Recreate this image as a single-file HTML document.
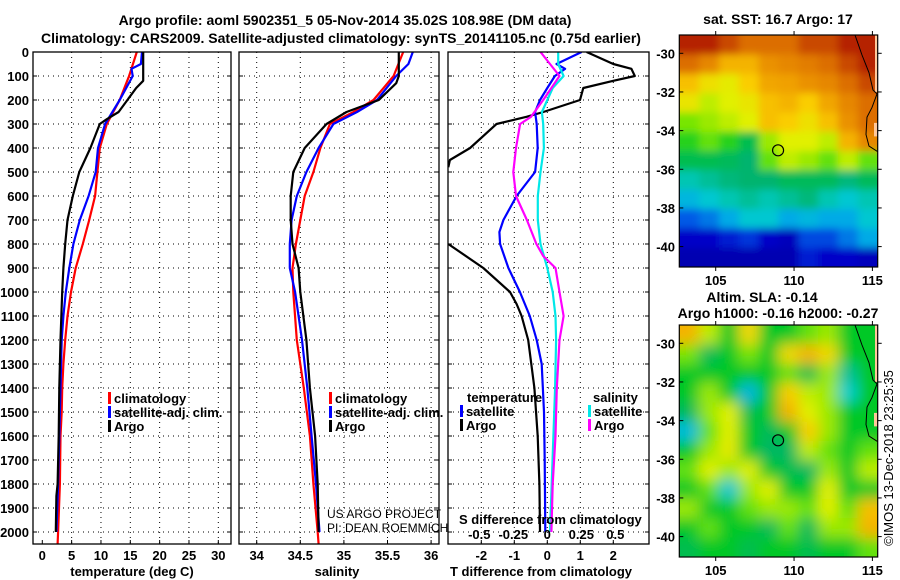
<!DOCTYPE html>
<html><head><meta charset="utf-8"><style>
html,body{margin:0;padding:0;background:#fff}
svg{display:block}
text{font-family:"Liberation Sans",sans-serif;font-weight:bold;fill:#000}
.t{font-size:13px}
.ti{font-size:14px}
.thin{font-weight:normal;font-size:12px}
</style></head><body>
<svg id="fig" width="900" height="580" viewBox="0 0 900 580" xmlns="http://www.w3.org/2000/svg">
<text class="ti" x="345" y="25" text-anchor="middle">Argo profile: aoml 5902351_5 05-Nov-2014 35.02S 108.98E (DM data)</text>
<text class="ti" x="341" y="43" text-anchor="middle">Climatology: CARS2009. Satellite-adjusted climatology: synTS_20141105.nc (0.75d earlier)</text>
<g id="p1"></g>
<g id="p2"></g>
<g id="p3"></g>
<g id="m1"></g>
<g id="m2"></g>
<text class="ti" x="778" y="24" text-anchor="middle">sat. SST: 16.7 Argo: 17</text>
<text class="ti" x="762" y="302" text-anchor="middle">Altim. SLA: -0.14</text>
<text class="ti" x="778" y="318" text-anchor="middle">Argo h1000: -0.16 h2000: -0.27</text>
<text x="0" y="0" style="font-weight:normal;font-size:13px" transform="translate(893,458) rotate(-90)" text-anchor="middle">©IMOS 13-Dec-2018 23:25:35</text>
</svg>
<script>
// ---- temperature profiles ----
const tClimDepth=[0,100,200,300,400,500,600,700,800,900,1000,1100,1200,1300,1400,1500,1600,1800,2000,2050];
const tClim=[16.1,14.8,13.2,11.0,9.8,9.4,9.0,8.0,6.9,5.7,4.9,4.3,3.9,3.6,3.4,3.3,3.1,3.0,2.7,2.6];
const tSatDepth=[0,50,70,100,200,300,400,500,600,700,800,900,1000,1100,1200,1400,1600,1800,2000];
const tSat=[17.0,16.8,15.2,15.4,13.2,10.7,9.5,9.1,7.9,6.4,5.3,4.6,4.0,3.6,3.3,3.1,2.9,2.7,2.4];
const tArgoDepth=[0,120,150,200,250,280,300,350,400,500,600,700,800,900,1000,1200,1400,1600,1800,1850,2000];
const tArgo=[17.2,17.2,16.0,14.5,13.0,11.0,9.8,9.0,8.2,6.3,5.2,4.3,3.9,3.6,3.4,3.1,2.9,2.8,2.6,2.4,2.3];
// ---- salinity profiles ----
const sClimDepth=[0,100,200,250,300,400,500,600,700,800,900,1000,1200,1400,1600,1800,2000,2050];
const sClim=[35.68,35.57,35.34,35.11,34.84,34.73,34.65,34.55,34.50,34.45,34.41,34.42,34.46,34.54,34.61,34.65,34.70,34.71];
const sSatDepth=[0,50,100,200,250,300,400,500,600,700,800,900,1000,1200,1400,1600,1800,2000];
const sSat=[35.79,35.74,35.60,35.38,35.15,34.88,34.71,34.57,34.46,34.40,34.38,34.38,34.44,34.52,34.58,34.63,34.68,34.72];
const sArgoDepth=[0,100,130,200,250,300,400,500,600,700,800,900,1000,1200,1400,1600,1800,2000];
const sArgo=[35.63,35.63,35.60,35.40,35.03,34.80,34.55,34.42,34.39,34.39,34.41,34.48,34.50,34.57,34.61,34.67,34.70,34.71];
// ---- differences ----
const dTArgoDepth=[0,50,70,100,120,150,200,250,270,300,400,450,480];
const dTArgo=[1.19,2.0,2.55,2.65,2.0,1.09,0.99,-0.12,-0.63,-1.54,-2.34,-2.95,-3.0];
const dTArgoDeepDepth=[800,900,1000,1050,1100,1200,1400,1600,1800,2000];
const dTArgoDeep=[-3.0,-1.94,-1.13,-0.93,-0.78,-0.58,-0.39,-0.29,-0.24,-0.22];
const dTSatDepth=[0,50,70,100,150,200,250,300,400,500,600,700,750,800,900,1000,1100,1200,1300,1500,1700,2000];
const dTSat=[1.04,0.28,0.54,0.23,0.0,-0.22,-0.37,-0.32,-0.29,-0.37,-0.93,-1.33,-1.45,-1.43,-1.18,-0.83,-0.53,-0.32,-0.17,-0.10,-0.08,-0.06];
const dSSatDepth=[0,50,100,150,200,250,300,400,500,600,700,800,900,1000,1100,1200,1400,1600,1800,2000];
const dSSat=[0.08,0.08,0.12,0.04,0.0,-0.04,-0.03,-0.025,-0.05,-0.07,-0.07,-0.05,0.0,0.04,0.06,0.065,0.057,0.045,0.032,0.02];
const dSArgoDepth=[0,50,100,150,200,270,300,400,500,600,700,800,850,900,1000,1100,1200,1400,1600,1800,2000];
const dSArgo=[-0.05,0.02,0.09,0.03,-0.03,-0.12,-0.20,-0.23,-0.25,-0.23,-0.15,-0.08,-0.03,0.06,0.09,0.12,0.09,0.07,0.06,0.04,0.03];
// ---- tick labels ----
const depthTicks=[0,100,200,300,400,500,600,700,800,900,1000,1100,1200,1300,1400,1500,1600,1700,1800,1900,2000];
const tempTicks=[0,5,10,15,20,25,30];
const salTicks=[34,34.5,35,35.5,36];
const salTickLabels=["34","34.5","35","35.5","36"];
const dTTicks=[-2,-1,0,1,2];
const dSTicks=[-0.5,-0.25,0,0.25,0.5];
const dSTickLabels=["-0.5","-0.25","0","0.25","0.5"];
const latTicks=[-30,-32,-34,-36,-38,-40];
const lonTicks=[105,110,115];
// ---- map grids (colour index 0..1), rows north->south, lat -29.05..-41.05, lon 102.7..115.3 ----
const sstGrid=[
[0.95,0.95,0.9,0.85,0.85,0.85,0.9,0.9,0.95,0.95],
[0.85,0.8,0.72,0.72,0.78,0.8,0.82,0.85,0.9,0.95],
[0.7,0.65,0.63,0.68,0.74,0.75,0.78,0.8,0.85,0.9],
[0.64,0.6,0.62,0.64,0.7,0.72,0.68,0.74,0.8,0.85],
[0.56,0.58,0.6,0.62,0.7,0.68,0.65,0.7,0.78,0.85],
[0.52,0.55,0.52,0.46,0.58,0.62,0.62,0.6,0.72,0.8],
[0.46,0.46,0.45,0.43,0.55,0.6,0.58,0.55,0.6,0.55],
[0.38,0.4,0.42,0.43,0.43,0.45,0.45,0.45,0.42,0.45],
[0.32,0.35,0.38,0.4,0.38,0.4,0.42,0.38,0.35,0.38],
[0.22,0.25,0.3,0.35,0.35,0.3,0.32,0.3,0.3,0.35],
[0.12,0.12,0.15,0.18,0.12,0.1,0.2,0.2,0.25,0.3],
[0.08,0.08,0.08,0.08,0.08,0.08,0.15,0.12,0.12,0.1]];
const slaGrid=[
[0.72,0.6,0.5,0.66,0.5,0.5,0.55,0.58,0.5,0.5],
[0.56,0.45,0.5,0.56,0.5,0.66,0.72,0.66,0.5,0.5],
[0.5,0.5,0.5,0.5,0.5,0.55,0.46,0.58,0.4,0.5],
[0.5,0.58,0.5,0.32,0.5,0.68,0.6,0.58,0.36,0.5],
[0.45,0.58,0.62,0.46,0.5,0.72,0.62,0.58,0.5,0.5],
[0.33,0.55,0.62,0.5,0.45,0.5,0.68,0.58,0.5,0.5],
[0.5,0.58,0.63,0.5,0.44,0.44,0.6,0.55,0.5,0.55],
[0.55,0.62,0.58,0.62,0.5,0.46,0.44,0.58,0.5,0.6],
[0.5,0.55,0.35,0.58,0.62,0.5,0.5,0.62,0.5,0.5],
[0.58,0.5,0.5,0.55,0.58,0.58,0.55,0.62,0.55,0.7],
[0.5,0.55,0.5,0.5,0.45,0.55,0.45,0.58,0.58,0.72],
[0.46,0.5,0.5,0.46,0.5,0.5,0.46,0.5,0.5,0.55]];
const argoLon=108.98, argoLat=-35.02;

const NS="http://www.w3.org/2000/svg";
function mk(parent,tag,attrs){const e=document.createElementNS(NS,tag);for(const k in attrs)e.setAttribute(k,attrs[k]);parent.appendChild(e);return e;}
const Y0=52, YS=0.24, YB=544;
const yD=d=>Y0+d*YS;
const xT=t=>42.3+t*5.867;
const xS=s=>256.7+(s-34)*87.2;
const xDT=t=>547.3+t*33;
const xDS=s=>547.3+s*136;

function panel(g,x0,x1,name){
  // vertical grid drawn by caller; horizontal grid
  depthTicks.forEach(d=>{
    if(d===0)return;
    const l=mk(g,'line',{x1:x0,x2:x1,y1:yD(d),y2:yD(d),stroke:'#000','stroke-width':1,'stroke-dasharray':'1,4'});
    
    
    const a=mk(g,'line',{x1:x0,x2:x0+4,y1:yD(d),y2:yD(d),stroke:'#000'});
    
    
    const b=mk(g,'line',{x1:x1-4,x2:x1,y1:yD(d),y2:yD(d),stroke:'#000'});
    
    
  });
}
function frame(g,x0,x1,name){
  const r=mk(g,'rect',{x:x0,y:Y0,width:x1-x0,height:YB-Y0,fill:'none',stroke:'#000','stroke-width':1.3});
  
  
}
function vgrid(g,xs,name,x0,x1){
  xs.forEach(x=>{
    const l=mk(g,'line',{x1:x,x2:x,y1:Y0,y2:YB,stroke:'#000','stroke-dasharray':'1,4'});
    
    
  });
}
function xtick(g,x,label,name,y){
  const a=mk(g,'line',{x1:x,x2:x,y1:YB-4,y2:YB,stroke:'#000'});
  
  
  const t=mk(g,'text',{x:x,y:y||560,'text-anchor':'middle',class:'t'});
  t.textContent=label;
  
  
}
function line(g,ds,vs,xf,color,name,clip){
  const pts=ds.map((d,i)=>xf(vs[i]).toFixed(1)+','+yD(d).toFixed(1)).join(' ');
  const p=mk(g,'polyline',{points:pts,fill:'none',stroke:color,'stroke-width':2.2,'stroke-linejoin':'round'});
  if(clip)p.setAttribute('clip-path','url(#'+clip+')');
  
  
}
function text(g,x,y,s,name,cls,anchor){
  const t=mk(g,'text',{x:x,y:y,class:cls||'t','text-anchor':anchor||'start'});
  t.textContent=s;
  
  
  return t;
}
function legend(g,x,y,color,label,name){
  const r=mk(g,'rect',{x:x,y:y-11,width:3,height:12,fill:color});
  
  
  text(g,x+6,y,label,name+'-label');
}
const svg=document.getElementById('fig');
const defs=mk(svg,'defs',{});
const cp=mk(defs,'clipPath',{id:'clip3'});mk(cp,'rect',{x:448,y:Y0,width:201,height:YB-Y0});

// Panel 1
const p1=document.getElementById('p1');
vgrid(p1,tempTicks.slice(1,7).map(xT),'temperature');
panel(p1,33,231,'temperature');
depthTicks.forEach(d=>text(p1,29,yD(d)+5,String(d),'depth-tick-label','t','end'));
tempTicks.forEach(t=>xtick(p1,xT(t),String(t),'temperature'));
line(p1,tClimDepth,tClim,xT,'#ff0000','temperature-climatology-line');
line(p1,tSatDepth,tSat,xT,'#0000ff','temperature-satellite-line');
line(p1,tArgoDepth,tArgo,xT,'#000000','temperature-argo-line');
frame(p1,33,231,'temperature');
legend(p1,108,403,'#ff0000','climatology','temperature-legend-climatology');
legend(p1,108,417,'#0000ff','satellite-adj. clim.','temperature-legend-satellite');
legend(p1,108,431,'#000000','Argo','temperature-legend-argo');
text(p1,132,576,'temperature (deg C)','temperature-axis-title','t','middle');

// Panel 2
const p2=document.getElementById('p2');
vgrid(p2,salTicks.map(xS),'salinity');
panel(p2,239,439,'salinity');
salTicks.forEach((s,i)=>xtick(p2,xS(s),salTickLabels[i],'salinity'));
line(p2,sClimDepth,sClim,xS,'#ff0000','salinity-climatology-line');
line(p2,sSatDepth,sSat,xS,'#0000ff','salinity-satellite-line');
line(p2,sArgoDepth,sArgo,xS,'#000000','salinity-argo-line');
frame(p2,239,439,'salinity');
legend(p2,329,403,'#ff0000','climatology','salinity-legend-climatology');
legend(p2,329,417,'#0000ff','satellite-adj. clim.','salinity-legend-satellite');
legend(p2,329,431,'#000000','Argo','salinity-legend-argo');
text(p2,337,576,'salinity','salinity-axis-title','t','middle');
text(p2,327,518,'US ARGO PROJECT','project-credit','thin');
text(p2,327,532,'PI: DEAN ROEMMICH','pi-credit','thin');

// Panel 3
const p3=document.getElementById('p3');
vgrid(p3,dTTicks.map(xDT),'difference');
panel(p3,448,649,'difference');
dTTicks.forEach(t=>xtick(p3,xDT(t),String(t),'t-difference'));
line(p3,dTArgoDepth,dTArgo,xDT,'#000000','t-diff-argo-upper-line','clip3');
line(p3,dTArgoDeepDepth,dTArgoDeep,xDT,'#000000','t-diff-argo-line','clip3');
line(p3,dTSatDepth,dTSat,xDT,'#0000ff','t-diff-satellite-line','clip3');
line(p3,dSSatDepth,dSSat,xDS,'#00e8e8','s-diff-satellite-line','clip3');
line(p3,dSArgoDepth,dSArgo,xDS,'#ff00ff','s-diff-argo-line','clip3');
frame(p3,448,649,'difference');
text(p3,467,402,'temperature','diff-legend-temperature-heading');
legend(p3,460,416,'#0000ff','satellite','diff-legend-t-satellite');
legend(p3,460,430,'#000000','Argo','diff-legend-t-argo');
text(p3,593,402,'salinity','diff-legend-salinity-heading');
legend(p3,588,416,'#00e8e8','satellite','diff-legend-s-satellite');
legend(p3,588,430,'#ff00ff','Argo','diff-legend-s-argo');
text(p3,459,524,'S difference from climatology','s-difference-axis-title');
dSTicks.forEach((s,i)=>text(p3,xDS(s),539,dSTickLabels[i],'s-difference-tick-label','t','middle'));
text(p3,541,576,'T difference from climatology','t-difference-axis-title','t','middle');

// Maps
const stops=[[0,0,0,130],[0.12,0,0,200],[0.22,0,90,230],[0.3,0,170,230],[0.36,0,205,205],[0.43,0,180,110],[0.5,0,200,40],[0.56,120,230,0],[0.62,225,240,0],[0.68,250,205,0],[0.75,240,160,0],[0.85,220,110,0],[0.93,190,50,0],[1,160,0,0]];
function cmap(v){for(let i=1;i<stops.length;i++){if(v<=stops[i][0]){const a=stops[i-1],b=stops[i],f=(v-a[0])/(b[0]-a[0]);return 'rgb('+[1,2,3].map(k=>Math.round(a[k]+(b[k]-a[k])*f)).join(',')+')';}}return 'rgb(160,0,0)';}
function map(id,grid,top,blur,name){
  const g=document.getElementById(id);
  const L=679.3,R=877.7,B=top+232;
  const lonX=lon=>715.7+(lon-105)*15.67;
  const latY=lat=>top+18.3+(-30-lat)*19.33;
  const c=mk(defs,'clipPath',{id:'c'+id});mk(c,'rect',{x:L,y:top,width:R-L,height:B-top});
  const f=mk(defs,'filter',{id:'f'+id,x:'-10%',y:'-10%',width:'120%',height:'120%'});
  mk(f,'feGaussianBlur',{stdDeviation:blur});
  const outer=mk(g,'g',{'clip-path':'url(#c'+id+')'});
  const inner=mk(outer,'g',{filter:'url(#f'+id+')'});
  const nr=grid.length,nc=grid[0].length,cw=(R-L)/nc,ch=(B-top)/nr;
  grid.forEach((row,r)=>row.forEach((v,ci)=>{
    let x=L+ci*cw,y=top+r*ch,w=cw+0.6,h=ch+0.6;
    if(ci===0){x-=20;w+=20;} if(ci===nc-1){w+=20;}
    if(r===0){y-=20;h+=20;} if(r===nr-1){h+=20;}
    const cell=mk(inner,'rect',{x:x,y:y,width:w,height:h,fill:cmap(v)});
    
    
  }));
  // land + coast
  const land1=mk(outer,'rect',{x:875,y:top,width:3,height:latY(-32)-top,fill:'#ffc89a'});
  
  
  const land2=mk(outer,'rect',{x:874,y:latY(-33.6),width:4,height:latY(-34.3)-latY(-33.6),fill:'#ffc89a'});
  
  
  const coast=mk(outer,'polyline',{points:[[855,top],[862,top+20],[869,latY(-31)],[873,latY(-31.9)],[877,latY(-32.1)],[872,latY(-32.8)],[867,latY(-33.3)],[866,latY(-34.2)],[869,latY(-34.8)],[878,latY(-35.1)]].map(p=>p.join(',')).join(' '),fill:'none',stroke:'#000','stroke-width':1});
  
  
  const circ=mk(g,'circle',{cx:lonX(argoLon),cy:latY(argoLat),r:5.5,fill:'none',stroke:'#000','stroke-width':1.2});
  
  
  const fr=mk(g,'rect',{x:L,y:top,width:R-L,height:B-top,fill:'none',stroke:'#000','stroke-width':1.2});
  
  
  latTicks.forEach(lat=>{
    const y=latY(lat);
    const t=text(g,675,y+5,String(lat),name+'-lat-label','t','end');
    const a=mk(g,'line',{x1:L,x2:L+4,y1:y,y2:y,stroke:'#000'});
    
    
    const b=mk(g,'line',{x1:R,x2:R+4,y1:y,y2:y,stroke:'#000'});
    
    
  });
  lonTicks.forEach(lon=>{
    const x=lonX(lon);
    text(g,x,B+18,String(lon),name+'-lon-label','t','middle');
    const a=mk(g,'line',{x1:x,x2:x,y1:top-4,y2:top,stroke:'#000'});
    
    
    const b=mk(g,'line',{x1:x,x2:x,y1:B,y2:B+4,stroke:'#000'});
    
    
  });
}
map('m1',sstGrid,35,4,'sst-map');
map('m2',slaGrid,325,7,'sla-map');
</script>
</body></html>
